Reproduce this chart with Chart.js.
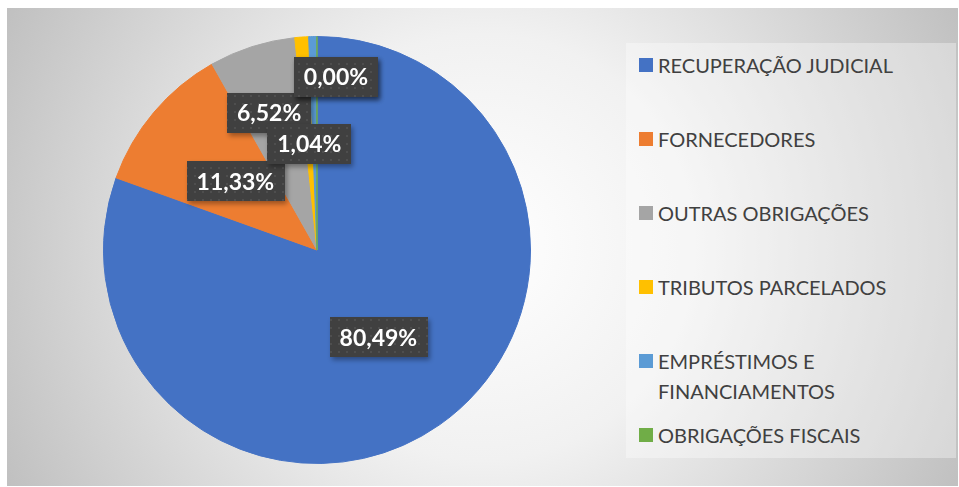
<!DOCTYPE html>
<html>
<head>
<meta charset="utf-8">
<script src="https://cdn.jsdelivr.net/npm/chart.js@4.4.0/dist/chart.umd.min.js"></script>
<style>
    body { margin: 0; width: 959px; height: 487px; overflow: hidden; background: #fff; font-family: Lato, sans-serif; }
    #frame {
        position: absolute; left: 7px; top: 8px; width: 951px; height: 478px;
        background: radial-gradient(circle farthest-corner at 50% 50%, #ffffff 0%, #f1f1f1 40%, #c0c0c0 100%);
    }
    #pieBox { position: absolute; left: 103px; top: 36px; width: 428px; height: 428px; }
    #legend {
        position: absolute; left: 626px; top: 43px; width: 330px; height: 415px;
        background: rgba(255, 255, 255, 0.35);
        box-sizing: border-box; padding-top: 7px;
    }
    .item { position: relative; height: 74px; padding-left: 32px; font-size: 20px; line-height: 30px; color: #404040; }
    .swatch { position: absolute; left: 13px; top: 8px; width: 14px; height: 14px; }
</style>
</head>
<body>
<div id="frame"></div>
<div id="pieBox"><canvas id="pieChart"></canvas></div>
<div id="legend"></div>
<script>
const categories = ['RECUPERAÇÃO JUDICIAL', 'FORNECEDORES', 'OUTRAS OBRIGAÇÕES', 'TRIBUTOS PARCELADOS', 'EMPRÉSTIMOS E FINANCIAMENTOS', 'OBRIGAÇÕES FISCAIS'];
const legendLines = [['RECUPERAÇÃO JUDICIAL'], ['FORNECEDORES'], ['OUTRAS OBRIGAÇÕES'], ['TRIBUTOS PARCELADOS'], ['EMPRÉSTIMOS E', 'FINANCIAMENTOS'], ['OBRIGAÇÕES FISCAIS']];
const shares = [80.49, 11.33, 6.52, 1.04, 0.62, 0.004];
const sliceColors = ['#4472C4', '#ED7D31', '#A5A5A5', '#FFC000', '#5B9BD5', '#70AD47'];

// where each data label sits: fraction of the radius along the mid angle, plus a sideways nudge
const labelRadius = [0.50, 0.50, 0.675, 0.50, 0.81, 0.81];
const labelNudgeX = [0, 0, -4, 0, 23, 19];

function pct(v) {
    return v.toFixed(2).replace('.', ',') + '%';
}

function makeDots() {
    const c = document.createElement('canvas');
    c.width = 8; c.height = 8;
    const g = c.getContext('2d');
    g.fillStyle = '#404040';
    g.fillRect(0, 0, 8, 8);
    g.fillStyle = '#4e4e4e';
    g.fillRect(3, 3, 2, 2);
    return c;
}

const boxLabels = {
    id: 'boxLabels',
    afterDatasetsDraw(chart) {
        const ctx = chart.ctx;
        const meta = chart.getDatasetMeta(0);
        const dots = ctx.createPattern(makeDots(), 'repeat');
        ctx.save();
        ctx.font = 'bold 23px Lato';
        ctx.textAlign = 'center';
        ctx.textBaseline = 'middle';
        meta.data.forEach((arc, i) => {
            const mid = (arc.startAngle + arc.endAngle) / 2;
            const r = arc.outerRadius * labelRadius[i];
            const x = arc.x + Math.cos(mid) * r + labelNudgeX[i];
            const y = arc.y + Math.sin(mid) * r;
            const text = pct(shares[i]);
            const w = ctx.measureText(text).width + 20;
            const h = 40;
            ctx.save();
            ctx.shadowColor = 'rgba(0,0,0,0.35)';
            ctx.shadowBlur = 5;
            ctx.shadowOffsetX = 2;
            ctx.shadowOffsetY = 3;
            ctx.fillStyle = dots;
            ctx.fillRect(Math.round(x - w / 2), Math.round(y - h / 2), Math.round(w), h);
            ctx.restore();
            ctx.fillStyle = '#ffffff';
            ctx.fillText(text, x, y + 1);
        });
        ctx.restore();
    }
};

function buildLegend() {
    const box = document.getElementById('legend');
    legendLines.forEach((lines, i) => {
        const item = document.createElement('div');
        item.className = 'item';
        item.innerHTML = `<span class="swatch" style="background:${sliceColors[i]}"></span>${lines.join('<br>')}`;
        box.appendChild(item);
    });
}

document.addEventListener('DOMContentLoaded', () => {
    buildLegend();
    new Chart(document.getElementById('pieChart'), {
        type: 'pie',
        data: {
            labels: categories,
            datasets: [{
                data: shares,
                backgroundColor: sliceColors,
                borderColor: sliceColors,
                borderWidth: 1
            }]
        },
        options: {
            responsive: true,
            maintainAspectRatio: false,
            animation: false,
            layout: { padding: 0 },
            plugins: {
                legend: { display: false },
                tooltip: { enabled: false }
            }
        },
        plugins: [boxLabels]
    });
});
</script>
</body>
</html>
